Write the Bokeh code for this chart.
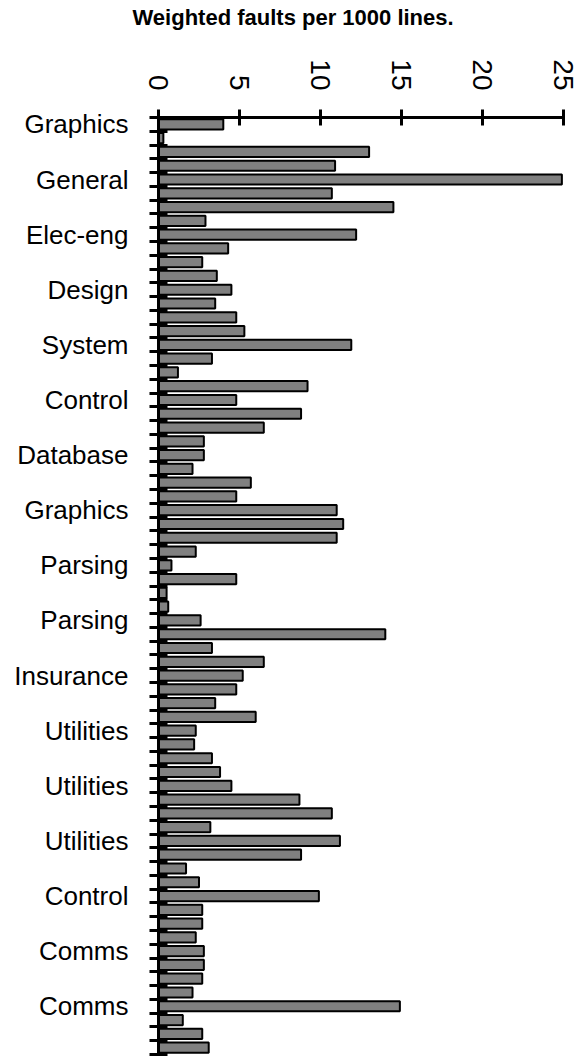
import math
from bokeh.plotting import figure
from bokeh.models import Range1d, FixedTicker, Title, ColumnDataSource
from bokeh.embed import file_html
from bokeh.resources import INLINE

# ---- data ----
group_labels = ["Graphics", "General", "Elec-eng", "Design", "System", "Control",
                "Database", "Graphics", "Parsing", "Parsing", "Insurance",
                "Utilities", "Utilities", "Utilities", "Control", "Comms", "Comms"]
faults = [4.0, 0.3, 13.0, 10.9, 24.9, 10.7, 14.5, 2.9,
          12.2, 4.3, 2.7, 3.6, 4.5, 3.5, 4.8, 5.3,
          11.9, 3.3, 1.2, 9.2, 4.8, 8.8, 6.5, 2.8,
          2.8, 2.1, 5.7, 4.8, 11.0, 11.4, 11.0, 2.3,
          0.8, 4.8, 0.5, 0.6, 2.6, 14.0, 3.3, 6.5,
          5.2, 4.8, 3.5, 6.0, 2.3, 2.2, 3.3, 3.8,
          4.5, 8.7, 10.7, 3.2, 11.2, 8.8, 1.7, 2.5,
          9.9, 2.7, 2.7, 2.3, 2.8, 2.8, 2.7, 2.1,
          14.9, 1.5, 2.7, 3.1]
x_ticks = [0, 5, 10, 15, 20, 25]
title_text = "Weighted faults per 1000 lines."

# ---- layout constants ----
W, H = 581, 1056
LEFT, RIGHT, TOP, BOTTOM = 158, 18, 117, 2
FONT = "Liberation Sans"

n = len(faults)
pos = list(range(1, n + 1))
group_size = n // len(group_labels)
label_pos = pos[::group_size]
boundaries = [k + 0.5 for k in range(0, n + 1)]

src = ColumnDataSource(dict(y=pos, v=faults))

p = figure(width=W, height=H, output_backend="svg", toolbar_location=None,
           x_range=Range1d(x_ticks[0], x_ticks[-1]), y_range=Range1d(n + 0.5, 0.5),
           x_axis_location="above",
           min_border_left=LEFT, min_border_right=RIGHT,
           min_border_top=TOP, min_border_bottom=BOTTOM)

# empty spacer between the axis and the title
p.add_layout(Title(text=" ", text_font_size="1px", standoff=22), "above")

p.title = Title(text=title_text, align="left", offset=-26,
                text_font=FONT, text_font_size="22px", text_font_style="bold",
                text_color="black", standoff=4)

p.hbar(y="y", right="v", left=0, height=0.74, source=src,
       fill_color="#808080", line_color="black", line_width=2)

p.xgrid.visible = False
p.ygrid.visible = False
p.outline_line_color = None
p.background_fill_color = "white"
p.border_fill_color = "white"

xa = p.xaxis[0]
xa.ticker = FixedTicker(ticks=x_ticks, minor_ticks=[])
xa.major_label_orientation = -math.pi / 2
xa.major_tick_in = 8
xa.major_tick_out = 8
xa.minor_tick_in = 0
xa.minor_tick_out = 0
xa.major_tick_line_width = 3
xa.axis_line_width = 3
xa.major_tick_line_color = "black"
xa.axis_line_color = "black"
xa.major_label_text_font = FONT
xa.major_label_text_font_size = "28px"
xa.major_label_text_color = "black"
xa.major_label_standoff = 19

ya = p.yaxis[0]
ya.ticker = FixedTicker(ticks=label_pos, minor_ticks=boundaries)
ya.major_label_overrides = {lp: lab for lp, lab in zip(label_pos, group_labels)}
ya.major_tick_in = 0
ya.major_tick_out = 0
ya.minor_tick_in = 9
ya.minor_tick_out = 9
ya.minor_tick_line_width = 3
ya.minor_tick_line_color = "black"
ya.axis_line_width = 3
ya.axis_line_color = "black"
ya.major_label_text_font = FONT
ya.major_label_text_font_size = "26px"
ya.major_label_text_color = "black"
ya.major_label_standoff = 21

open("out.html", "w").write(file_html(p, INLINE))
